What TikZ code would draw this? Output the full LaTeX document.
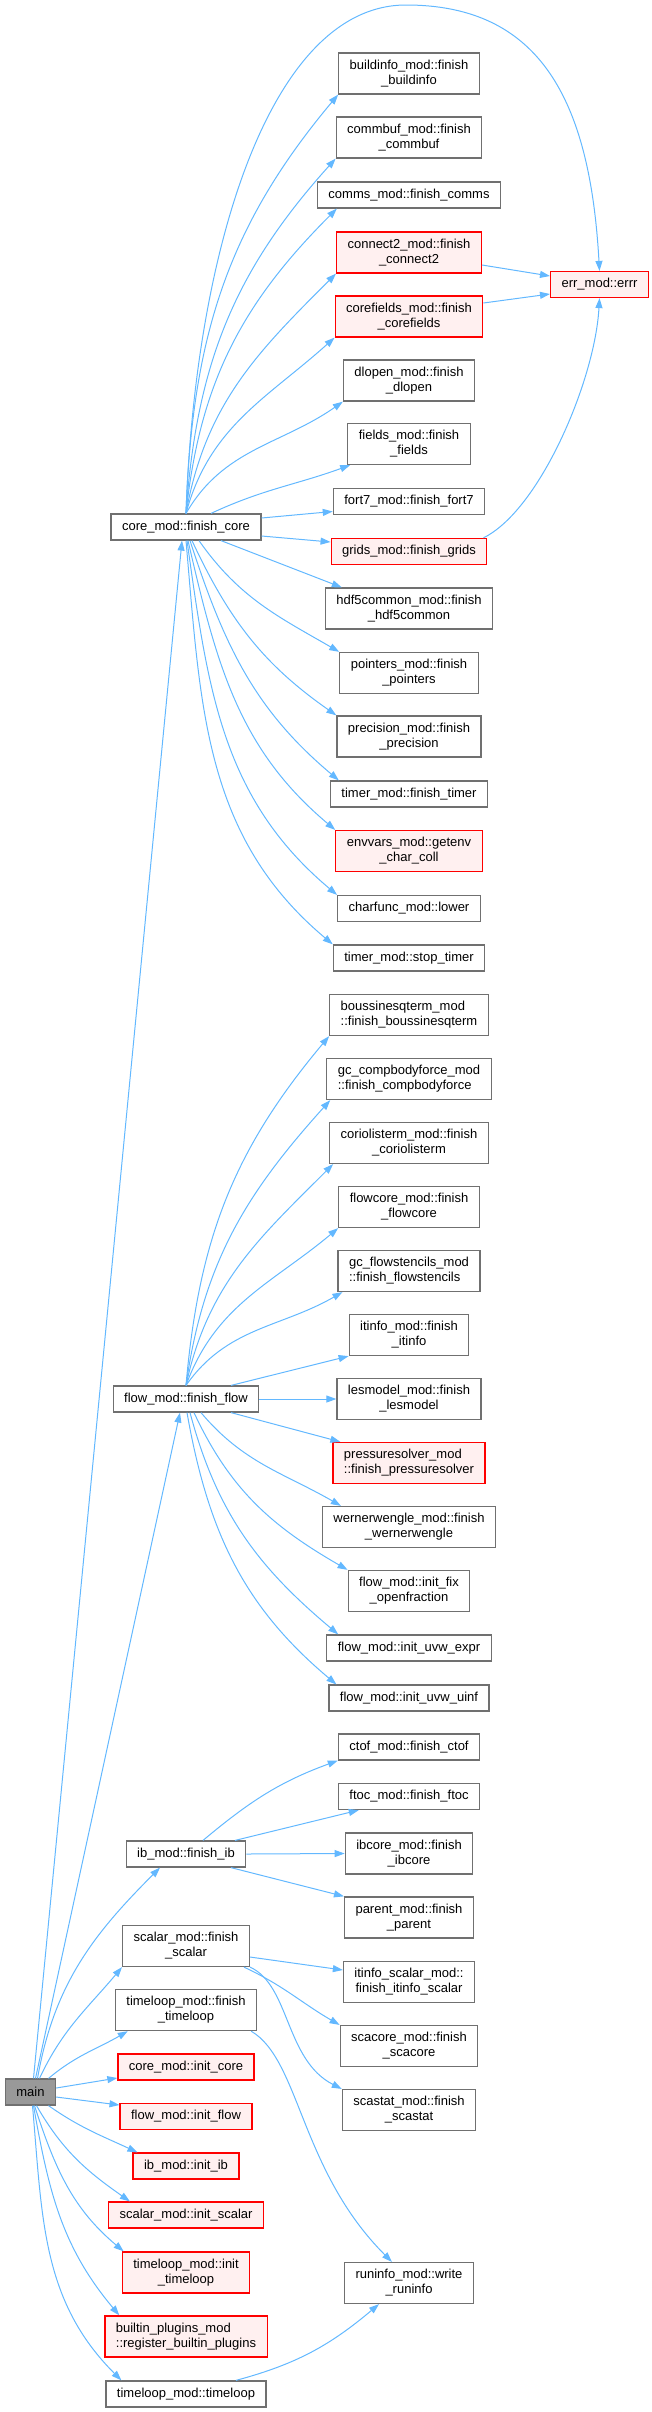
\documentclass[tikz,border=0pt]{standalone}
\usepackage{fontspec}
\setmainfont{Liberation Sans}
\usetikzlibrary{arrows.meta}
\tikzset{>={Triangle[length=10pt,width=7pt]}}
\definecolor{edgeblue}{HTML}{63B8FF}
\definecolor{boxgray}{HTML}{707070}
\definecolor{redfill}{HTML}{FFF0F0}
\definecolor{mainfill}{HTML}{999999}
\tikzstyle{fn}=[draw=boxgray,line width=1.2pt,fill=white,font=\fontsize{13}{15}\selectfont,inner xsep=11pt,inner ysep=7pt,minimum height=26pt,align=center]
\tikzstyle{fnl}=[fn,align=left]
\tikzstyle{fnred}=[fn,draw=red,fill=redfill]
\tikzstyle{fnredl}=[fnred,align=left]
\tikzstyle{edge}=[edgeblue,line width=1pt,->]

\begin{document}
\begin{tikzpicture}[x=1pt,y=-1pt]
  \def\xm{186}  % middle column
  \def\xr{409}  % right column
  \useasboundingbox (0,0) rectangle (651,2412);

  % callees on the right
  \foreach \name/\st/\y/\txt in {
    buildinfo/fn/73.5/{buildinfo\_mod::finish\\\_buildinfo},
    commbuf/fn/137.5/{commbuf\_mod::finish\\\_commbuf},
    comms/fn/195/{comms\_mod::finish\_comms},
    connecttwo/fnred/252.5/{connect2\_mod::finish\\\_connect2},
    corefields/fnred/316.5/{corefields\_mod::finish\\\_corefields},
    dlopen/fn/380.5/{dlopen\_mod::finish\\\_dlopen},
    fields/fn/444/{fields\_mod::finish\\\_fields},
    fortseven/fn/501.5/{fort7\_mod::finish\_fort7},
    grids/fnred/551.5/{grids\_mod::finish\_grids},
    hdffive/fn/608.5/{hdf5common\_mod::finish\\\_hdf5common},
    pointers/fn/673/{pointers\_mod::finish\\\_pointers},
    precision/fn/736.5/{precision\_mod::finish\\\_precision},
    finishtimer/fn/794/{timer\_mod::finish\_timer},
    envvars/fnred/851/{envvars\_mod::getenv\\\_char\_coll},
    charfunc/fn/908.5/{charfunc\_mod::lower},
    stoptimer/fn/958/{timer\_mod::stop\_timer},
    boussinesq/fnl/1015/{boussinesqterm\_mod\\::finish\_boussinesqterm},
    compbody/fnl/1079/{gc\_compbodyforce\_mod\\::finish\_compbodyforce},
    coriolis/fn/1143/{coriolisterm\_mod::finish\\\_coriolisterm},
    flowcore/fn/1207/{flowcore\_mod::finish\\\_flowcore},
    flowstencils/fnl/1271/{gc\_flowstencils\_mod\\::finish\_flowstencils},
    itinfo/fn/1335/{itinfo\_mod::finish\\\_itinfo},
    lesmodel/fn/1399/{lesmodel\_mod::finish\\\_lesmodel},
    pressure/fnredl/1463/{pressuresolver\_mod\\::finish\_pressuresolver},
    werner/fn/1527/{wernerwengle\_mod::finish\\\_wernerwengle},
    initfix/fn/1591/{flow\_mod::init\_fix\\\_openfraction},
    uvwexpr/fn/1648/{flow\_mod::init\_uvw\_expr},
    uvwuinf/fn/1698/{flow\_mod::init\_uvw\_uinf},
    ctof/fn/1747/{ctof\_mod::finish\_ctof},
    ftoc/fn/1796.5/{ftoc\_mod::finish\_ftoc},
    ibcore/fn/1853.5/{ibcore\_mod::finish\\\_ibcore},
    parent/fn/1917.5/{parent\_mod::finish\\\_parent},
    itinfoscalar/fn/1982/{itinfo\_scalar\_mod::\\finish\_itinfo\_scalar},
    scacore/fn/2046/{scacore\_mod::finish\\\_scacore},
    scastat/fn/2110/{scastat\_mod::finish\\\_scastat},
    runinfo/fn/2283/{runinfo\_mod::write\\\_runinfo}}
    \node[\st] (\name) at (\xr,\y) {\txt};

  % callees in the middle
  \foreach \name/\st/\y/\txt in {
    corefinish/fn/527/{core\_mod::finish\_core},
    flowfinish/fn/1399/{flow\_mod::finish\_flow},
    ibfinish/fn/1854/{ib\_mod::finish\_ib},
    scalarfinish/fn/1946/{scalar\_mod::finish\\\_scalar},
    timeloopfinish/fn/2010/{timeloop\_mod::finish\\\_timeloop},
    initcore/fnred/2067/{core\_mod::init\_core},
    initflow/fnred/2116.5/{flow\_mod::init\_flow},
    initib/fnred/2166/{ib\_mod::init\_ib},
    initscalar/fnred/2215/{scalar\_mod::init\_scalar},
    inittimeloop/fnred/2272.5/{timeloop\_mod::init\\\_timeloop},
    builtin/fnredl/2336.5/{builtin\_plugins\_mod\\::register\_builtin\_plugins},
    timeloop/fn/2394/{timeloop\_mod::timeloop}}
    \node[\st] (\name) at (\xm,\y) {\txt};

  \node[fn,fill=mainfill] (main) at (30.5,2092) {main};
  \node[fnred] (err) at (599.5,284.5) {err\_mod::errr};

  % core_mod::finish_core
  \foreach \t/\ex/\o/\i in {buildinfo/0/88/230, commbuf/0/86/228, comms/20/84/225,
      connecttwo/0/80/225, corefields/0/75/222, dlopen/0/60/215}
    \draw[edge] (corefinish.north) to[out=\o,in=\i] ([xshift=\ex pt]\t.south west);
  \draw[edge] ([xshift=25pt]corefinish.north) to[out=25,in=200] ([xshift=3pt]fields.south west);
  \draw[edge] ([yshift=9pt]corefinish.east) -- ([yshift=-10pt]fortseven.west);
  \draw[edge] ([yshift=-9pt]corefinish.east) -- ([yshift=9.5pt]grids.west);
  \draw[edge] ([xshift=35pt]corefinish.south) -- ([xshift=17pt]hdffive.north west);
  \foreach \t/\dx/\ex/\o/\i in {pointers/13/0/-55/150, precision/6/0/-65/145,
      finishtimer/4/9/-72/140, envvars/2/0/-77/140, charfunc/1/0/-82/140, stoptimer/0/0/-85/140}
    \draw[edge] ([xshift=\dx pt]corefinish.south) to[out=\o,in=\i] ([xshift=\ex pt]\t.north west);

  % err_mod::errr
  \draw[edge] (corefinish.north) .. controls (195,250) and (270,5) .. (406,5)
    .. controls (540,5) and (590,100) .. (err.north);
  \draw[edge] ([xshift=-4pt]grids.north east) .. controls (540,510) and (595,380) .. (err.south);
  \draw[edge] ([yshift=-12.5pt]connecttwo.east) -- ([yshift=8.5pt]err.west);
  \draw[edge] ([yshift=13.5pt]corefields.east) -- ([yshift=-9.5pt]err.west);

  % flow_mod::finish_flow
  \foreach \t/\ex/\o/\i in {boussinesq/0/85/230, compbody/4/82/228, coriolis/4/78/225,
      flowcore/0/70/220, flowstencils/5/55/210}
    \draw[edge] (flowfinish.north) to[out=\o,in=\i] ([xshift=\ex pt]\t.south west);
  \draw[edge] ([xshift=45pt]flowfinish.north) -- (itinfo.south west);
  \draw[edge] (flowfinish.east) -- (lesmodel.west);
  \draw[edge] ([xshift=45pt]flowfinish.south) -- ([xshift=8pt]pressure.north west);
  \foreach \t/\dx/\ex/\o/\i in {werner/15/19/-50/150, initfix/8/0/-65/150,
      uvwexpr/4/12/-75/140, uvwuinf/1/8/-80/140}
    \draw[edge] ([xshift=\dx pt]flowfinish.south) to[out=\o,in=\i] ([xshift=\ex pt]\t.north west);

  % ib_mod::finish_ib
  \draw[edge] ([xshift=17pt]ibfinish.north) to[out=40,in=200] (ctof.south west);
  \draw[edge] ([xshift=49pt]ibfinish.north) -- ([xshift=21pt]ftoc.south west);
  \draw[edge] (ibfinish.east) -- (ibcore.west);
  \draw[edge] ([xshift=45pt]ibfinish.south) -- (parent.north west);

  % scalar_mod::finish_scalar
  \draw[edge] ([yshift=-11pt]scalarfinish.east) -- ([yshift=12pt]itinfoscalar.west);
  \draw[edge] ([xshift=-6pt]scalarfinish.south east) to[out=-25,in=150] (scacore.north west);
  \draw[edge] (scalarfinish.south east) .. controls (290,1985) and (285,2060) .. (scastat.north west);

  % runinfo_mod::write_runinfo
  \draw[edge] ([xshift=-6pt]timeloopfinish.south east) .. controls (300,2060) and (300,2170)
    .. ([xshift=48pt]runinfo.north west);
  \draw[edge] ([xshift=50pt]timeloop.north) to[out=15,in=220] ([xshift=-30pt]runinfo.south);

  % main
  \draw[edge] ([xshift=3pt]main.north) -- ([xshift=-4pt]corefinish.south);
  \draw[edge] ([xshift=5pt]main.north) -- ([xshift=-6pt]flowfinish.south);
  \draw[edge] ([xshift=7pt]main.north) to[out=80,in=225] ([xshift=-26pt]ibfinish.south);
  \draw[edge] ([xshift=9pt]main.north) to[out=65,in=230] (scalarfinish.south west);
  \draw[edge] ([xshift=18pt]main.north) to[out=40,in=210] ([xshift=13pt]timeloopfinish.south west);
  \draw[edge] ([yshift=4pt]main.east) -- ([yshift=-11pt]initcore.west);
  \draw[edge] ([yshift=-5pt]main.east) -- ([yshift=11.5pt]initflow.west);
  \draw[edge] ([xshift=18pt]main.south) to[out=-35,in=155] ([xshift=5pt]initib.north west);
  \draw[edge] ([xshift=6pt]main.south) to[out=-60,in=145] ([xshift=22pt]initscalar.north west);
  \draw[edge] ([xshift=4pt]main.south) to[out=-72,in=140] ([xshift=2pt]inittimeloop.north west);
  \draw[edge] ([xshift=3pt]main.south) to[out=-80,in=130] ([xshift=15pt]builtin.north west);
  \draw[edge] ([xshift=2pt]main.south) to[out=-85,in=135] ([xshift=16pt]timeloop.north west);
\end{tikzpicture}
\end{document}
